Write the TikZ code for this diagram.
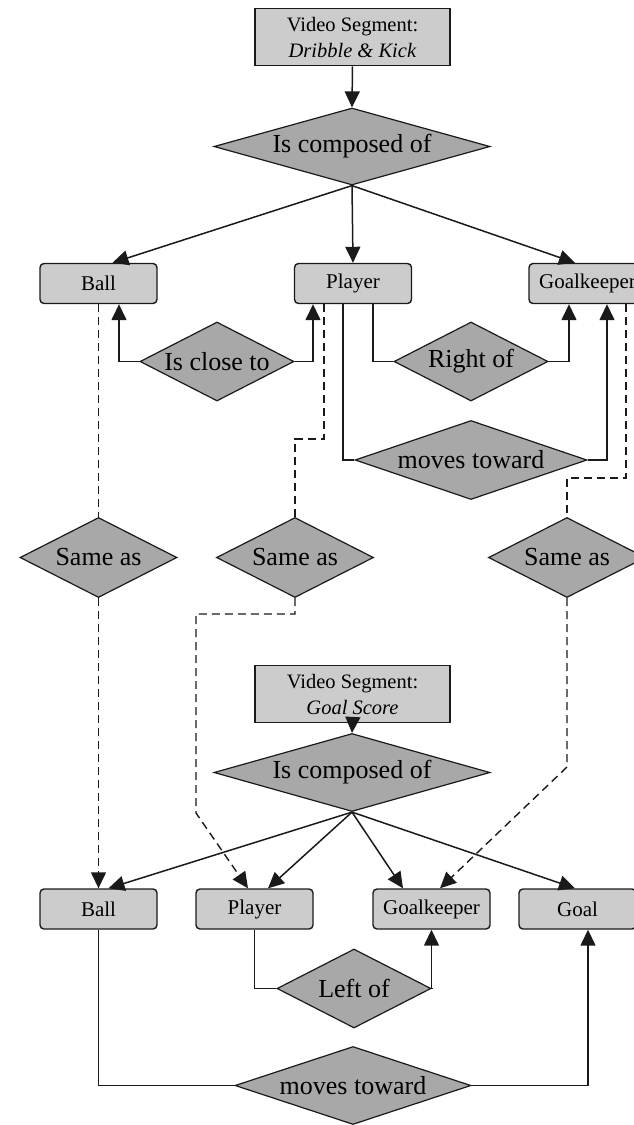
\documentclass[tikz,border=0pt]{standalone}
\usepackage{fontspec}
\setmainfont{Liberation Serif}
\usetikzlibrary{shapes.geometric,arrows.meta,calc}
\definecolor{boxgray}{HTML}{CCCCCC}
\definecolor{diagray}{HTML}{A8A8A8}
\definecolor{linecol}{HTML}{1A1A1A}
\newcommand\dtext[1]{\makebox[0pt]{#1}}
\begin{document}
\begin{tikzpicture}[x=1pt,y=-1pt,
  segbox/.style={draw=linecol, line width=1.7pt, fill=boxgray, minimum width=195pt, minimum height=57pt, inner sep=0pt, align=center, font=\fontsize{20.5}{26}\selectfont},
  entity/.style={draw=linecol, line width=1.4pt, fill=boxgray, rounded corners=4pt, minimum width=117pt, minimum height=40pt, inner sep=0pt, font=\fontsize{21}{24}\selectfont},
  rel/.style={diamond, draw=linecol, line width=1.2pt, fill=diagray, inner sep=0pt, aspect=1, font=\fontsize{26}{30}\selectfont},
  conn/.style={draw=linecol, line width=1.5pt},
  tipstyle/.style={-{Triangle[length=16pt,width=15pt]}},
  arr/.style={conn, tipstyle},
  same/.style={conn, line width=1.4pt, dash pattern=on 8pt off 5pt},
]
\useasboundingbox (0,0) rectangle (633,1125);

% top segment
\node[segbox] (vs1) at (352.5,37) {Video Segment:\\\textit{Dribble \& Kick}};
\node[rel, minimum width=276pt, minimum height=77pt] (comp1) at (352,146.5) {\dtext{Is composed of}};
\node[entity] (ball1) at (98.5,283.5) {Ball};
\node[entity] (player1) at (353,283.5) {Player};
\node[entity] (gk1) at (587.5,283.5) {Goalkeeper};
\node[rel, minimum width=154pt, minimum height=79pt] (close) at (217,361.5) {\dtext{Is close to}};
\node[rel, minimum width=154pt, minimum height=79pt] (right) at (471,361.5) {\dtext{Right of}};
\node[rel, minimum width=232pt, minimum height=79pt] (mt1) at (471,460) {\dtext{moves toward}};

% same-as
\node[rel, minimum width=157pt, minimum height=80pt] (sa1) at (98.5,557.5) {\dtext{Same as}};
\node[rel, minimum width=157pt, minimum height=80pt] (sa2) at (295,557.5) {\dtext{Same as}};
\node[rel, minimum width=157pt, minimum height=80pt] (sa3) at (567,557.5) {\dtext{Same as}};

% bottom segment
\node[segbox] (vs2) at (352.5,694) {Video Segment:\\\textit{Goal Score}};
\node[rel, minimum width=276pt, minimum height=78pt] (comp2) at (352,772.5) {\dtext{Is composed of}};
\node[entity] (ball2) at (98.5,909) {Ball};
\node[entity] (player2) at (254.5,909) {Player};
\node[entity] (gk2) at (431.5,909) {Goalkeeper};
\node[entity] (goal) at (577.5,909) {Goal};
\node[rel, minimum width=154pt, minimum height=79pt] (left) at (354,988.5) {\dtext{Left of}};
\node[rel, minimum width=236pt, minimum height=78pt] (mt2) at (353,1085.5) {\dtext{moves toward}};

% helper coordinates for dashed routes
\coordinate (k1) at (295,439);
\coordinate (k2) at (196,614);
\coordinate (k3) at (196,813);
\coordinate (k4) at (567,478);
\coordinate (k5) at (567,767);

% top connectors
\draw[arr] (vs1.south) -- (comp1.north);
\draw[arr] (comp1.south) -- ([xshift=14pt]ball1.north);
\draw[arr] (comp1.south) -- (player1.north);
\draw[arr] (comp1.south) -- ([xshift=-12.5pt]gk1.north);
\draw[arr] (close.west) -| ([xshift=20.5pt]ball1.south);
\draw[arr] (close.east) -| ([xshift=-40pt]player1.south);
\draw[conn] ([xshift=20pt]player1.south) |- (right.west);
\draw[arr] (right.east) -| ([xshift=-18.5pt]gk1.south);
\draw[conn] ([xshift=-10pt]player1.south) |- (mt1.west);
\draw[arr] (mt1.east) -| ([xshift=19.5pt]gk1.south);

% same-as connectors
\draw[same] (ball1.south) -- (sa1.north);
\draw[same, tipstyle] (sa1.south) -- (ball2.north);
\draw[same] ([xshift=-29pt]player1.south) |- (k1) -- (sa2.north);
\draw[same, tipstyle] (sa2.south) |- (k2) -- (k3) -- ([xshift=-6.5pt]player2.north);
\draw[same] ([xshift=38.5pt]gk1.south) |- (k4) -- (sa3.north);
\draw[same, tipstyle] (sa3.south) -- (k5) -- ([xshift=8.5pt]gk2.north);

% bottom connectors
\draw[arr] (vs2.south) -- (comp2.north);
\draw[arr] (comp2.south) -- ([xshift=10pt]ball2.north);
\draw[arr] (comp2.south) -- ([xshift=13.5pt]player2.north);
\draw[arr] (comp2.south) -- ([xshift=-28.5pt]gk2.north);
\draw[arr] (comp2.south) -- ([xshift=-2.5pt]goal.north);
\draw[conn] (player2.south) |- (left.west);
\draw[arr] (left.east) -| (gk2.south);
\draw[conn] (ball2.south) |- (mt2.west);
\draw[arr] (mt2.east) -| ([xshift=10.5pt]goal.south);
\end{tikzpicture}
\end{document}
